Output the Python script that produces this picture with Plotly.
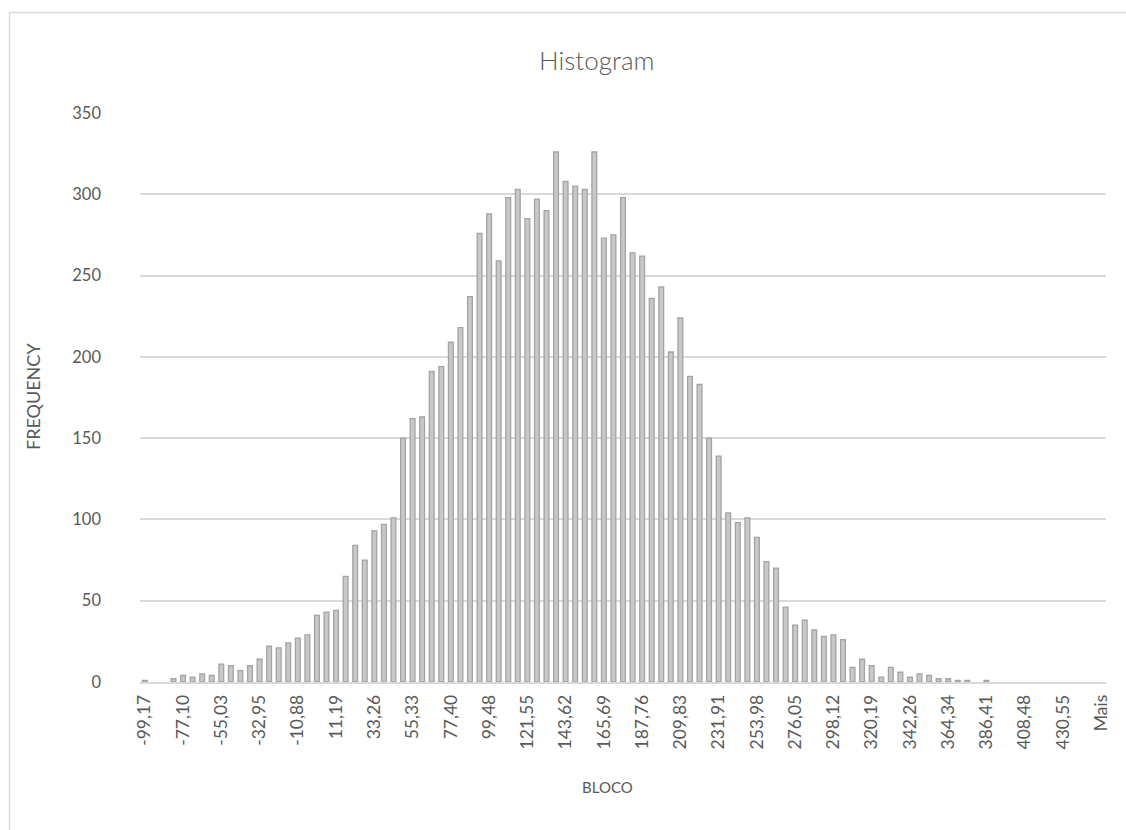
import plotly.graph_objects as go

# Histogram bins: lower edge of the first bin and the bin width
BIN_START = -99.16855
BIN_WIDTH = 5.5179

# Frequency per bin (last entry is the "Mais" overflow bin)
FREQUENCY = [
    1, 0, 0, 2, 4, 3, 5, 4, 11, 10,
    7, 10, 14, 22, 21, 24, 27, 29, 41, 43,
    44, 65, 84, 75, 93, 97, 101, 150, 162, 163,
    191, 194, 209, 218, 237, 276, 288, 259, 298, 303,
    285, 297, 290, 326, 308, 305, 303, 326, 273, 275,
    298, 264, 262, 236, 243, 203, 224, 188, 183, 150,
    139, 104, 98, 101, 89, 74, 70, 46, 35, 38,
    32, 28, 29, 26, 9, 14, 10, 3, 9, 6,
    3, 5, 4, 2, 2, 1, 1, 0, 1, 0,
    0, 0, 0, 0, 0, 0, 0, 0, 0, 0,
    0,
]

# Labels shown on the category axis (every fourth bin)
TICK_LABELS = [
    "-99,17", "-77,10", "-55,03", "-32,95", "-10,88", "11,19", "33,26",
    "55,33", "77,40", "99,48", "121,55", "143,62", "165,69", "187,76",
    "209,83", "231,91", "253,98", "276,05", "298,12", "320,19", "342,26",
    "364,34", "386,41", "408,48", "430,55", "Mais",
]

Y_TICKS = [0, 50, 100, 150, 200, 250, 300, 350]

bins = [
    f"{BIN_START + i * BIN_WIDTH:.2f}".replace(".", ",")
    for i in range(len(FREQUENCY) - 1)
] + ["Mais"]

TEXT = "#595959"
GRID = "#d9d9d9"
FONT = "Lato"

# empty bins get no outline so nothing shows on the baseline
outline_widths = [1.3 if v > 0 else 0 for v in FREQUENCY]

fig = go.Figure(
    go.Bar(
        x=bins,
        y=FREQUENCY,
        marker=dict(color="#c8c8c8", line=dict(color="#a3a3a3", width=outline_widths)),
    )
)

fig.update_layout(
    width=1126,
    height=830,
    margin=dict(l=140, r=20, t=113, b=148),
    paper_bgcolor="white",
    plot_bgcolor="white",
    bargap=0.5,
    showlegend=False,
    font=dict(family=FONT, color=TEXT),
    title=dict(
        text="Histogram",
        x=0.530,
        xref="container",
        xanchor="center",
        y=1 - 61 / 830,
        yref="container",
        yanchor="middle",
        font=dict(family=FONT, size=26, color=TEXT, weight=300),
    ),
    xaxis=dict(
        type="category",
        tickmode="array",
        tickvals=bins[::4],
        ticktext=TICK_LABELS,
        tickangle=-90,
        tickfont=dict(family=FONT, size=17.5, color=TEXT),
        showgrid=False,
        showline=True,
        linecolor=GRID,
        linewidth=1.5,
        ticks="",
        ticklabelstandoff=4,
        range=[-0.5, len(bins) - 0.5],
    ),
    yaxis=dict(
        range=[0, 350],
        tickmode="array",
        tickvals=Y_TICKS,
        tickfont=dict(family=FONT, size=16.5, color=TEXT),
        showgrid=True,
        gridcolor=GRID,
        gridwidth=1.5,
        zeroline=False,
        showline=False,
        ticks="",
        ticklabelstandoff=38,
    ),
    annotations=[
        dict(
            text="FREQUENCY",
            xref="paper",
            yref="paper",
            x=(33 - 140) / 966,
            y=(682 - 397) / 569,
            textangle=-90,
            showarrow=False,
            font=dict(family=FONT, size=18, color=TEXT),
            xanchor="center",
            yanchor="middle",
        ),
        dict(
            text="BLOCO",
            xref="paper",
            yref="paper",
            x=(607 - 140) / 966,
            y=(682 - 787) / 569,
            showarrow=False,
            font=dict(family=FONT, size=15, color=TEXT),
            xanchor="center",
            yanchor="middle",
        ),
    ],
    shapes=[
        # chart-area frame
        dict(
            type="rect",
            xref="paper",
            yref="paper",
            x0=(9.5 - 140) / 966,
            x1=(1140 - 140) / 966,
            y0=(682 - 840) / 569,
            y1=(682 - 12.5) / 569,
            line=dict(color=GRID, width=1.5),
            fillcolor="rgba(0,0,0,0)",
            layer="below",
        )
    ],
)

fig.write_html("out.html")
